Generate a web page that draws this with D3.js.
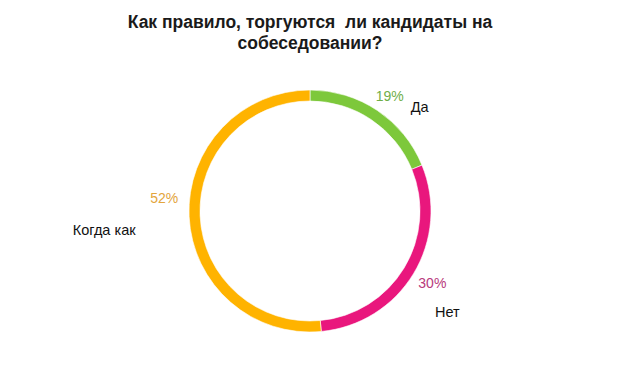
<!DOCTYPE html>
<html><head><meta charset="utf-8">
<script src="https://cdn.jsdelivr.net/npm/d3@7/dist/d3.min.js"></script>
<style>body{margin:0;background:#fff}svg{display:block}text{font-family:"Liberation Sans",Arial,sans-serif}</style>
</head><body>
<script>
const categories = ["Да", "Нет", "Когда как"];
const values = [19, 30, 52];
const percentLabels = ["19%", "30%", "52%"];
const titleLines = ["Как правило, торгуются  ли кандидаты на", "собеседовании?"];

const W = 620, H = 368, cx = 310, cy = 211;
const colors = ["#7dc83b", "#e9177d", "#ffb300"];
const textColors = ["#6fae48", "#b83a7c", "#e3a53c"];

const svg = d3.select("body").append("svg").attr("width", W).attr("height", H);

svg.selectAll("text.title").data(titleLines).enter().append("text")
  .attr("class", "title").attr("x", cx).attr("y", (d, i) => 28 + i * 21)
  .attr("text-anchor", "middle").attr("font-size", 17.5).attr("font-weight", "bold")
  .attr("fill", "#1a1a1a").style("white-space", "pre").text(d => d);

const pie = d3.pie().sort(null).value(d => d);
const arcs = pie(values);
const arc = d3.arc().innerRadius(110).outerRadius(121);
const g = svg.append("g").attr("transform", `translate(${cx},${cy})`);

g.selectAll("path").data(arcs).enter().append("path")
  .attr("d", arc).attr("fill", (d, i) => colors[i])
  .attr("stroke", "#fff").attr("stroke-width", 0.6);

const labelArc = d3.arc().innerRadius(143).outerRadius(143);
// small per-label nudges (layout)
const pctNudge = [[0, 4], [0, -2], [-3, -20]];
const catOffset = [[30, 11], [15, 29], [-60, 32]];

arcs.forEach((a, i) => {
  const [x, y] = labelArc.centroid(a);
  const px = x + pctNudge[i][0], py = y + pctNudge[i][1];
  g.append("text").attr("x", px).attr("y", py + 5).attr("text-anchor", "middle")
    .attr("font-size", 14).attr("fill", textColors[i]).text(percentLabels[i]);
  g.append("text").attr("x", px + catOffset[i][0]).attr("y", py + catOffset[i][1] + 5)
    .attr("text-anchor", "middle").attr("font-size", 14.5).attr("fill", "#111").text(categories[i]);
});
</script>
</body></html>
